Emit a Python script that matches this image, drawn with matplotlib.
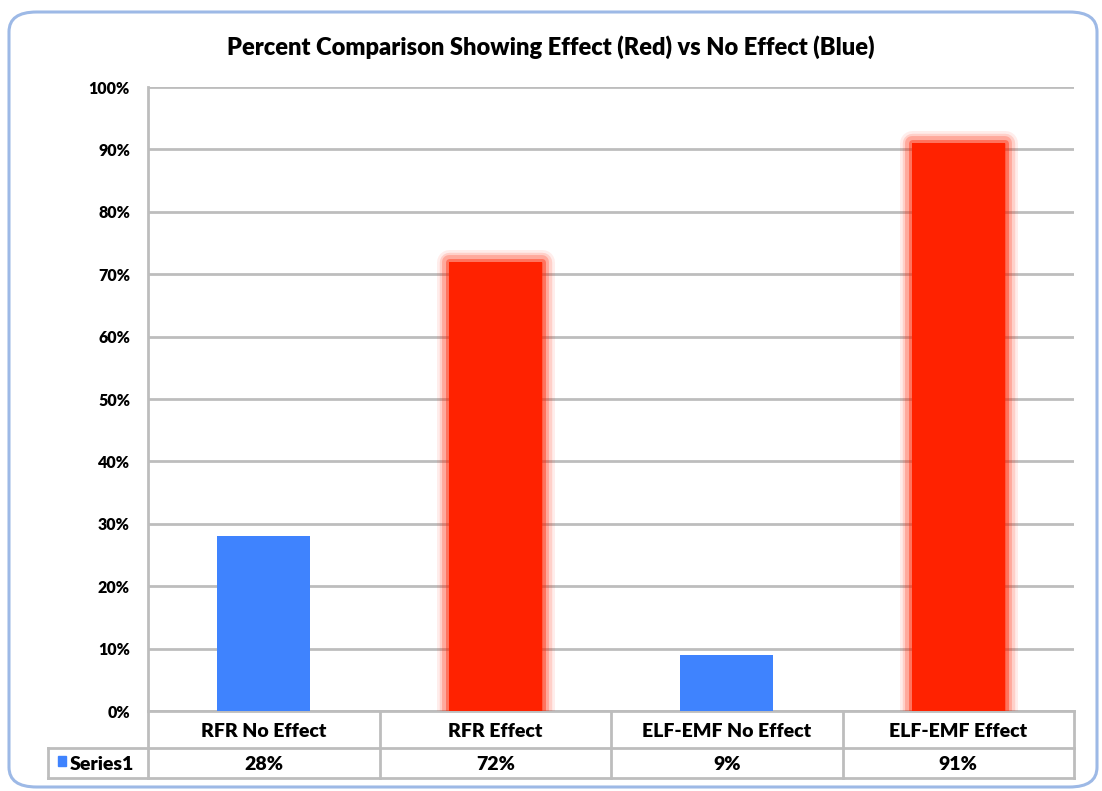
import matplotlib
matplotlib.use("Agg")
import matplotlib.pyplot as plt
from matplotlib.patches import FancyBboxPatch, Rectangle
import matplotlib.patheffects as pe
from matplotlib.lines import Line2D

categories = ["RFR No Effect", "RFR Effect", "ELF-EMF No Effect", "ELF-EMF Effect"]
values = [28, 72, 9, 91]
value_labels = ["28%", "72%", "9%", "91%"]
series_name = "Series1"
yticks = [0, 10, 20, 30, 40, 50, 60, 70, 80, 90, 100]
title = "Percent Comparison Showing Effect (Red) vs No Effect (Blue)"

BLUE = "#3F83FE"
RED = "#FF2200"
GRID = "#BDBDBD"
FONT = ["Lato", "DejaVu Sans"]
WEIGHT = "heavy"

fig = plt.figure(figsize=(11.02, 7.91), dpi=100)
W, H = 1102, 791

def fx(px):
    return px / W
def fy(py):
    return 1 - py / H

# outer rounded frame
frame = FancyBboxPatch((fx(9), fy(787)), fx(1097) - fx(9), fy(12) - fy(787),
                       boxstyle="round,pad=0,rounding_size=0.025",
                       transform=fig.transFigure, facecolor="white",
                       edgecolor="#9DB9E6", linewidth=2.2, zorder=-10)
fig.patches.append(frame)

ax = fig.add_axes([fx(148), fy(711), fx(1074) - fx(148), fy(87) - fy(711)])
ax.set_zorder(2)
ax.set_facecolor("none")
ax.set_xlim(-0.5, len(categories) - 0.5)
ax.set_ylim(0, 100)

colors = [BLUE if i % 2 == 0 else RED for i in range(len(values))]
bars = ax.bar(range(len(values)), values, width=0.4, color=colors, zorder=3)
for b, c in zip(bars, colors):
    if c == RED:
        b.set_path_effects([
            pe.Stroke(linewidth=18, foreground=RED, alpha=0.08, joinstyle="round"),
            pe.Stroke(linewidth=14, foreground=RED, alpha=0.14, joinstyle="round"),
            pe.Stroke(linewidth=10, foreground=RED, alpha=0.22, joinstyle="round"),
            pe.Stroke(linewidth=5, foreground=RED, alpha=0.4, joinstyle="round"),
            pe.Normal()])

ax.set_yticks(yticks)
ax.set_yticklabels([f"{t}%" for t in yticks], fontfamily=FONT, fontweight=WEIGHT,
                   fontsize=11.5)
ax.tick_params(axis="y", length=0, pad=13)
ax.set_xticks([])
ax.yaxis.grid(True, color=GRID, linewidth=2, zorder=1)
for s in ["top", "right", "bottom"]:
    ax.spines[s].set_visible(False)
ax.spines["left"].set_color(GRID)
ax.spines["left"].set_linewidth(2)
ax.spines["left"].set_zorder(1)

fig.text(0.5, fy(47), title, ha="center", va="center", fontfamily=FONT,
         fontweight=WEIGHT, fontsize=17)

# data table below axes
tr = ax.get_xaxis_transform()
row1_top, row1_bot, row2_bot = 0.0, -(748 - 711) / (711 - 87), -(778 - 711) / (711 - 87)
lk = dict(color=GRID, linewidth=2, clip_on=False, transform=tr, zorder=2)
n = len(categories)
for i in range(n + 1):
    ax.add_line(Line2D([i - 0.5, i - 0.5], [row1_top, row2_bot], **lk))
ax.add_line(Line2D([-0.5, n - 0.5], [row1_top, row1_top], **lk))
ax.add_line(Line2D([-0.5, n - 0.5], [row2_bot, row2_bot], **lk))
# row 2 extends left to header cell
x_left = -0.5 - (148 - 48) / ((1074 - 148) / n)
ax.add_line(Line2D([x_left, n - 0.5], [row1_bot, row1_bot], **lk))
ax.add_line(Line2D([x_left, -0.5], [row2_bot, row2_bot], **lk))
ax.add_line(Line2D([x_left, x_left], [row1_bot, row2_bot], **lk))

for i, (cat, lab) in enumerate(zip(categories, value_labels)):
    ax.text(i, (row1_top + row1_bot) / 2 - 0.003, cat, transform=tr, ha="center",
            va="center", fontfamily=FONT, fontweight=WEIGHT, fontsize=14)
    ax.text(i, (row1_bot + row2_bot) / 2 - 0.003, lab, transform=tr, ha="center",
            va="center", fontfamily=FONT, fontweight=WEIGHT, fontsize=14)

# legend key in header cell
ymid = (row1_bot + row2_bot) / 2
key_w = 8 / ((1074 - 148) / n)
key_h = 10 / (711 - 87)
ax.add_patch(Rectangle((x_left + 10 / ((1074 - 148) / n), ymid - key_h / 2 + 0.003),
                       key_w, key_h, transform=tr, color=BLUE, clip_on=False))
ax.text(x_left + 22 / ((1074 - 148) / n), ymid - 0.003, series_name, transform=tr,
        ha="left", va="center", fontfamily=FONT, fontweight=WEIGHT, fontsize=14)

fig.savefig("out.png", dpi=100)
